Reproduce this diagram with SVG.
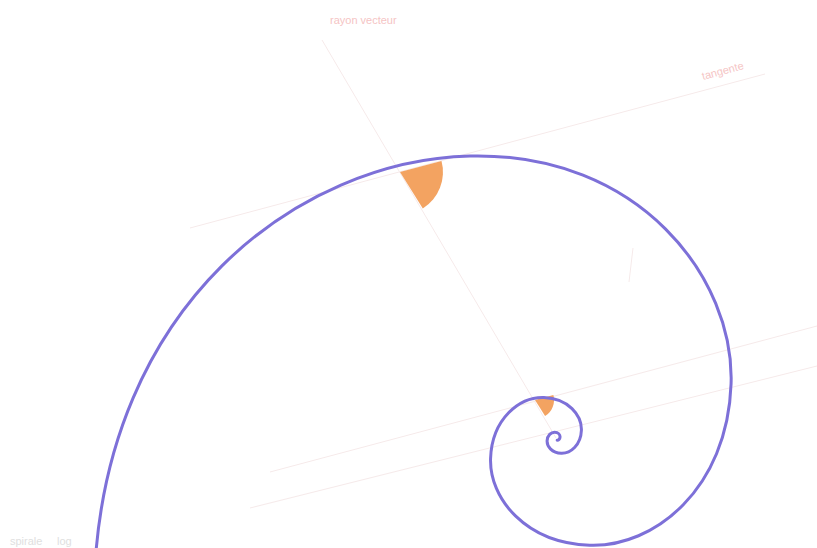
<svg xmlns="http://www.w3.org/2000/svg" width="817" height="548" viewBox="0 0 817 548">
<style>
.guide{stroke:#f6eaea;stroke-width:1;fill:none}
.wedge{fill:#f3a361}
.spiral{fill:none;stroke:#7d70d8;stroke-width:3;stroke-linecap:round;stroke-linejoin:round}
.lbl{font-family:"Liberation Sans",Arial,sans-serif;font-size:11px;fill:#f5c4c4}
.lbl2{font-family:"Liberation Sans",Arial,sans-serif;font-size:11px;fill:#e0e0e0}
</style>
<rect width="817" height="548" fill="#ffffff"/>
<g id="guides">
<line class="guide" x1="556" y1="438" x2="322" y2="40"/>
<line class="guide" x1="190" y1="228" x2="765" y2="74"/>
<line class="guide" x1="270" y1="472" x2="817" y2="326"/>
<line class="guide" x1="250" y1="508" x2="817" y2="366"/>
<line class="guide" x1="633" y1="248" x2="629" y2="282"/>
</g>
<g id="angle-marks">
<path class="wedge" d="M400,172 L441.5,160.9 A43,43 0 0 1 422.8,208.5 Z"/>
<path class="wedge" d="M535,400 L553.4,395.1 A19,19 0 0 1 545.1,416.1 Z"/>
</g>
<g id="spiral">
<path class="spiral" d="M94.25,581.27 C103.73,303.32 300,160 470,156 C640,152 734.65,278.93 731.07,383.90 C727.49,488.86 654.25,547.48 589.75,545.28 C525.24,543.08 489.22,498.07 490.57,458.43 C491.93,418.79 519.59,396.66 543.95,397.49 C568.30,398.32 581.91,415.31 581.40,430.28 C580.89,445.26 570.44,453.62 561.24,453.30 C552.04,452.99 546.90,446.57 547.10,440.91 C547.29,435.26 551.23,432.10 554.71,432.22 C558.18,432.34 560.12,434.76 560.05,436.90 C559.98,439.03 558.49,440.23 557.18,440.18"/>
</g>
<g id="labels">
<text class="lbl" x="330" y="24">rayon vecteur</text>
<text class="lbl" x="703" y="80" transform="rotate(-15 703 80)">tangente</text>
<text class="lbl2" x="10" y="545">spirale</text>
<text class="lbl2" x="57" y="545">log</text>
</g>
</svg>
